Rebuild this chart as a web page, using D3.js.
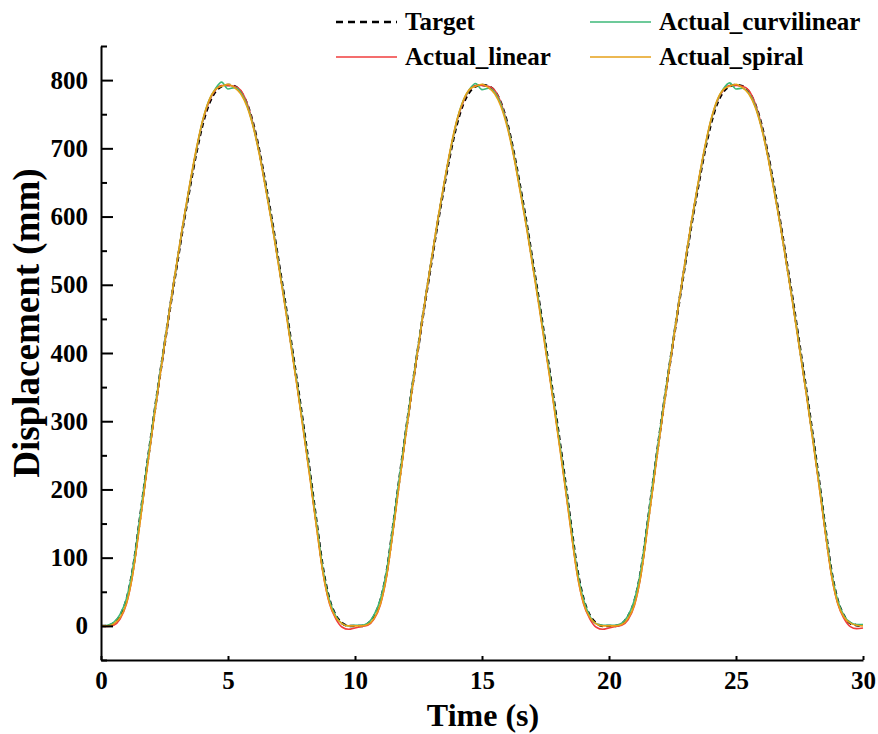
<!DOCTYPE html>
<html>
<head>
<meta charset="utf-8">
<script src="https://cdn.jsdelivr.net/npm/d3@7"></script>
<style>
body { margin: 0; background: #fff; }
text { font-family: "Liberation Serif", "Times New Roman", serif; font-weight: bold; fill: #000; }
</style>
</head>
<body>
<div id="chart"></div>
<script>
// sample grid, seconds (0.25 s step, 0..30)
const times = d3.range(121).map(i => i * 0.25);

const target = [
  0,0,4,15,38,82,148,218,285,350,412,474,532,590,643,693,735,765,783,791,793,791,783,765,735,693,643,590,532,474,412,350,285,218,148,82,38,15,4,0,
  0,0,3,14,37,80,146,216,284,349,411,473,531,589,642,692,734,764,782,791,793,791,784,766,736,694,644,591,533,475,413,351,286,219,149,83,39,15,4,0,
  0,0,3,14,36,79,145,215,283,348,410,472,531,589,642,692,734,765,783,791,793,791,783,765,735,693,643,590,532,474,412,350,285,218,148,82,38,15,4,1,
  0
];
const actualLinear = [
  0,-1,1,10,32,76,143,214,283,349,412,475,534,592,646,696,739,768,785,792,792,791,785,766,734,691,640,587,529,470,408,345,280,212,142,76,32,10,-2,-5,
  -3,-1,1,10,31,74,141,212,282,348,411,474,533,591,645,695,738,767,785,792,792,791,785,766,734,691,640,587,529,470,408,345,280,212,142,76,32,10,-2,-5,
  -3,-1,1,9,30,73,140,211,281,347,410,473,533,591,645,695,738,768,785,792,792,791,785,766,734,691,640,588,530,471,409,346,281,213,143,77,33,11,-1,-4,
  -3
];
const actualCurvilinear = [
  0,1,5,17,40,84,150,220,287,352,414,476,535,593,647,697,740,770,787,797,787,789,782,763,732,690,640,587,529,471,409,347,282,215,146,80,37,14,3,0,
  1,1,4,16,39,82,148,218,286,351,413,475,534,592,646,696,739,769,786,795,786,788,782,764,733,691,641,588,530,472,410,348,283,216,147,81,38,14,3,1,
  1,1,4,15,38,81,147,217,285,350,412,474,533,592,646,696,739,769,787,796,787,788,781,763,732,690,640,587,529,471,409,347,282,216,147,81,38,15,5,2,
  2
];
const actualSpiral = [
  0,0,3,12,33,76,141,212,281,348,412,476,536,595,649,699,741,770,786,791,794,789,780,761,730,688,637,584,526,467,405,343,277,210,140,75,33,12,3,0,
  0,0,2,11,32,74,139,210,280,347,411,475,535,594,648,698,740,769,786,791,794,789,780,761,730,688,637,584,526,467,405,343,277,210,140,75,33,12,3,0,
  0,0,2,11,31,73,138,209,279,346,410,474,535,594,648,698,740,770,786,791,794,789,780,761,730,688,637,585,527,468,406,344,278,211,141,76,34,13,4,1,
  0
];

const xTicks = [0, 5, 10, 15, 20, 25, 30];
const yTicks = [0, 100, 200, 300, 400, 500, 600, 700, 800];
const yMinorTicks = [-50, 50, 150, 250, 350, 450, 550, 650, 750, 850];

const series = [
  { name: "Target", values: target, color: "#000", width: 2.5, dash: "5,3.5" },
  { name: "Actual_linear", values: actualLinear, color: "#f03c3c", width: 1.6, dash: null },
  { name: "Actual_curvilinear", values: actualCurvilinear, color: "#3cb878", width: 1.6, dash: null },
  { name: "Actual_spiral", values: actualSpiral, color: "#e6a118", width: 1.6, dash: null }
];

const svgWidth = 878, svgHeight = 734;
const svg = d3.select("#chart").append("svg")
  .attr("width", svgWidth)
  .attr("height", svgHeight);

const xScale = d3.scaleLinear().domain([0, 30]).range([101, 863]);
const yScale = d3.scaleLinear().domain([-50, 850]).range([660, 46]);

// lines
const line = d3.line()
  .x((d, i) => xScale(times[i]))
  .y(d => yScale(d))
  .curve(d3.curveMonotoneX);

// target first, coloured ones on top (spiral last)
series.forEach(s => {
  svg.append("path")
    .datum(s.values)
    .attr("fill", "none")
    .attr("stroke", s.color)
    .attr("stroke-width", s.width)
    .attr("stroke-dasharray", s.dash)
    .attr("d", line);
});

// axes
let yAxis = svg.append("g")
  .attr("transform", "translate(101,0)")
  .call(d3.axisLeft(yScale).tickValues(yTicks).tickSize(-12).tickSizeOuter(0).tickPadding(13));
svg.append("g")
  .attr("transform", "translate(101,0)")
  .call(d3.axisLeft(yScale).tickValues(yMinorTicks).tickSize(-6).tickFormat(""))
  .select(".domain").remove();

let xAxis = svg.append("g")
  .attr("transform", "translate(0,660)")
  .call(d3.axisBottom(xScale).tickValues(xTicks).tickSize(-4).tickSizeOuter(0).tickPadding(11));

svg.selectAll(".domain, .tick line")
  .attr("stroke", "#000")
  .attr("stroke-width", 2);
svg.selectAll(".tick text")
  .attr("font-size", 25)
  .attr("font-family", "Liberation Serif, serif")
  .attr("font-weight", "bold");

// axis titles
svg.append("text")
  .attr("x", 483)
  .attr("y", 726)
  .attr("text-anchor", "middle")
  .attr("font-size", 32)
  .text("Time (s)");
svg.append("text")
  .attr("transform", "translate(39,323) rotate(-90)")
  .attr("text-anchor", "middle")
  .attr("font-size", 37)
  .text("Displacement (mm)");

// legend (column-major: Target, Actual_linear | Actual_curvilinear, Actual_spiral)
const legendPos = [
  { x: 336, y: 22 },
  { x: 336, y: 57 },
  { x: 590, y: 22 },
  { x: 590, y: 57 }
];
series.forEach((s, i) => {
  let g = svg.append("g").attr("transform", `translate(${legendPos[i].x},${legendPos[i].y})`);
  g.append("line")
    .attr("x1", 0).attr("x2", 61)
    .attr("y1", 0).attr("y2", 0)
    .attr("stroke", s.color)
    .attr("stroke-width", s.dash ? 2.5 : 1.6)
    .attr("stroke-dasharray", s.dash ? "7,5" : null);
  g.append("text")
    .attr("x", 69)
    .attr("y", 8)
    .attr("font-size", 25)
    .text(s.name);
});
</script>
</body>
</html>
